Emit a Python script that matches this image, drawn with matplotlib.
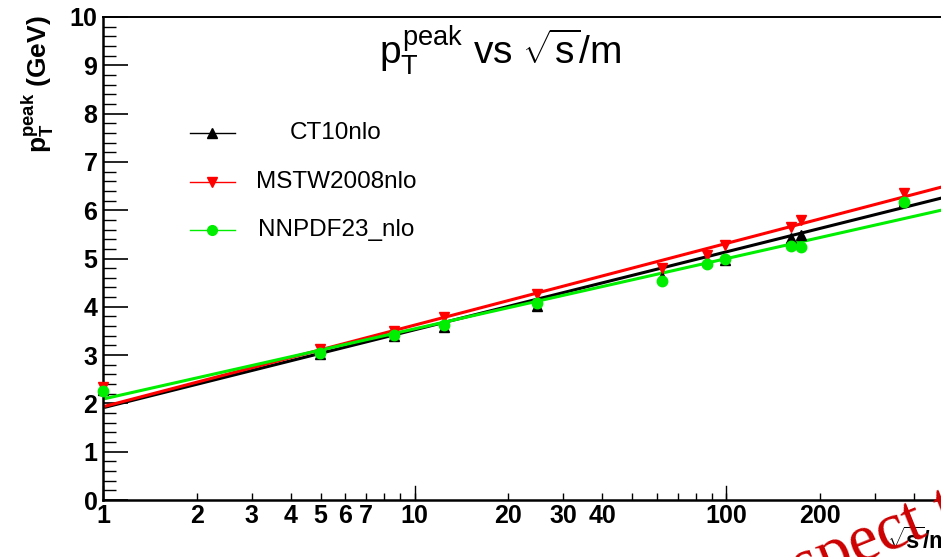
import numpy as np
import matplotlib
matplotlib.use("Agg")
import matplotlib.pyplot as plt
from matplotlib.lines import Line2D

plt.rcParams['font.family'] = ['Liberation Sans', 'DejaVu Sans']
plt.rcParams['mathtext.fontset'] = 'custom'
plt.rcParams['mathtext.rm'] = 'Liberation Sans'
plt.rcParams['mathtext.it'] = 'Liberation Sans'
plt.rcParams['mathtext.bf'] = 'Liberation Sans:bold'

# sqrt(s)/m of each point
sqrt_s_m = [1, 4.97, 8.6, 12.4, 24.8, 62.2, 87, 99.3, 162, 174, 372]
# pT peak (GeV) per PDF set
ct10 = [2.28, 3.03, 3.40, 3.58, 4.01, 4.62, 4.95, 4.97, 5.42, 5.49, 6.20]
mstw = [2.34, 3.13, 3.50, 3.79, 4.26, 4.80, 5.07, 5.28, 5.66, 5.80, 6.36]
nnpdf = [2.26, 3.05, 3.42, 3.62, 4.08, 4.53, 4.89, 4.99, 5.26, 5.24, 6.17]

# fit y = a + b*log10(x)
fit_ct10 = (1.91, 1.613)
fit_mstw = (1.93, 1.69)
fit_nnpdf = (2.09, 1.453)

names = ["CT10nlo", "MSTW2008nlo", "NNPDF23_nlo"]
colors = ["black", "#ff0000", "#00ee00"]
markers = ["^", "v", "o"]

x_ticks = [1, 2, 3, 4, 5, 6, 7, 10, 20, 30, 40, 100, 200]

fig = plt.figure(figsize=(9.41, 5.57), dpi=100)
W, H = 941, 557
ax = fig.add_axes([103 / W, 57 / H, 3 * 311.5 / W, 483 / H])
ax.set_xscale('log')
ax.set_xlim(1, 1000)
ax.set_ylim(0, 10)

xs = np.geomspace(1.02, 1000, 200)
for data, fit, c, m in zip([ct10, mstw, nnpdf], [fit_ct10, fit_mstw, fit_nnpdf],
                           colors, markers):
    ax.plot(xs, fit[0] + fit[1] * np.log10(xs), color=c, lw=2.2, zorder=2)
    ax.plot(sqrt_s_m, data, ls='none', marker=m, color=c, ms=7.5, zorder=3,
            clip_on=False)

# ticks, ROOT style (inside)
ax.set_yticks(range(0, 11))
ax.set_yticks(np.arange(0, 10.01, 0.2), minor=True)
ax.set_xticks(x_ticks)
ax.set_xticklabels([str(t) for t in x_ticks])
ax.xaxis.set_minor_locator(matplotlib.ticker.LogLocator(base=10, subs=np.arange(2, 10)))
ax.xaxis.set_minor_formatter(matplotlib.ticker.NullFormatter())
ax.tick_params(axis='y', which='major', direction='in', length=18, width=1.2,
               labelsize=18, pad=4)
ax.tick_params(axis='y', which='minor', direction='in', length=9, width=1.0)
ax.tick_params(axis='x', which='both', direction='in', length=5, width=1.0,
               labelsize=18, pad=3)
for lab in ax.get_xticklabels() + ax.get_yticklabels():
    lab.set_fontweight('bold')
# longer marks at decades
for d in [1, 10, 100]:
    ax.plot([d, d], [0, 0.3], color='black', lw=1.0, clip_on=False)
for s in ['left', 'bottom']:
    ax.spines[s].set_linewidth(1.8)
ax.spines['top'].set_linewidth(1.4)

# title and axis titles
fig.text(500 / W, 1 - 50 / H, r"$p_T^{peak}$ vs $\sqrt{s}$/m", fontsize=28,
         ha='center', va='center')
fig.text(38 / W, 1 - 15 / H, r"$\mathbf{p}_\mathbf{T}^\mathbf{peak}$ (GeV)",
         fontsize=19, fontweight='bold', rotation=90, ha='center', va='top')
fig.text(887 / W, 1 - 541 / H, r"$\mathbf{\sqrt{s}}$/m", fontsize=17,
         fontweight='bold', ha='left', va='center')

# legend
for i, (n, c, m) in enumerate(zip(names, colors, markers)):
    yy = 1 - (133 + 48.5 * i) / H
    fig.add_artist(Line2D([190 / W, 235 / W], [yy, yy], color=c, lw=1.0,
                          transform=fig.transFigure))
    fig.add_artist(Line2D([212 / W], [yy], color=c, marker=m, ms=7,
                          transform=fig.transFigure))
    fig.text(336 / W, yy, n, fontsize=17.5, ha='center', va='center')

# watermark
fig.text(754 / W, 1 - 606 / H, "respect to", fontsize=48, color='#cc0000',
         family='Liberation Serif', rotation=22, rotation_mode='anchor',
         ha='left', va='baseline')

fig.savefig("out.png", dpi=100)
